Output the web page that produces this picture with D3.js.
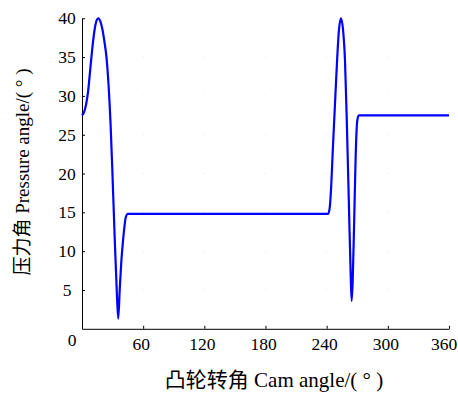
<!DOCTYPE html>
<html>
<head>
<meta charset="utf-8">
<script src="https://cdn.jsdelivr.net/npm/d3@7"></script>
<style>
  html, body { margin: 0; padding: 0; background: #fff; }
  svg text { font-family: "Liberation Serif", "Times New Roman", "Noto Sans CJK SC", serif; fill: #000; }
  .cjk { font-family: "Noto Sans CJK SC", sans-serif; }
</style>
</head>
<body>
<div id="chart"></div>
<script>
// Cam angle (deg) and pressure angle (deg)
const camAngle = [0, 2, 4, 6, 8, 10, 12, 14, 16, 18, 20, 22, 24, 26, 28, 30, 32, 34, 35.5,
                  37, 38.5, 40, 41.5, 43, 45,
                  241.5, 243, 244.5, 246, 248, 250, 252, 254, 256, 258, 260, 262, 263.5, 264.5,
                  265.5, 267, 268.5, 270, 271.5, 360];
const pressure = [27.5, 27.9, 28.9, 30.6, 33.3, 36.0, 38.2, 39.6, 40.0, 39.6, 38.6, 37.0, 35.0, 31.5, 26.5, 19.5, 12.0, 5.2, 1.3,
                  5.0, 8.5, 11.0, 13.0, 14.4, 14.8,
                  14.8, 15.6, 18.5, 23.0, 28.5, 34.0, 38.4, 40.0, 38.6, 34.5, 25.5, 15.0, 7.3, 3.6,
                  6.0, 14.0, 22.5, 26.8, 27.5, 27.5];

const xTicks = [60, 120, 180, 240, 300, 360];
const yTicks = [5, 10, 15, 20, 25, 30, 35, 40];

// axis titles: [cjk part, latin part]
const xLabel = ["凸轮转角", " Cam angle/("],
      yLabel = ["压力角", " Pressure angle/("];

const width  = 458,
      height = 394;

const x = d3.scaleLinear().domain([0, 360]).range([82, 449]),
      y = d3.scaleLinear().domain([0, 40]).range([328.8, 18.3]);

const svg = d3.select("#chart").append("svg")
  .attr("width", width)
  .attr("height", height);

// faint grid dots at tick crossings
const gridPts = [];
xTicks.slice(0, -1).forEach(a => yTicks.slice(0, -1).forEach(b => gridPts.push([a, b])));
svg.append("g").selectAll("rect")
  .data(gridPts)
  .join("rect")
  .attr("x", d => x(d[0]) - 0.5)
  .attr("y", d => y(d[1]) - 0.5)
  .attr("width", 1)
  .attr("height", 1)
  .attr("fill", "#e4e4e4");

// axes, ticks pointing inward
const xAxis = svg.append("g")
  .attr("transform", `translate(0,${y(0)})`)
  .call(d3.axisBottom(x).tickValues(xTicks).tickSizeInner(-3).tickSizeOuter(0).tickPadding(0));

const yAxis = svg.append("g")
  .attr("transform", `translate(${x(0)},0)`)
  .call(d3.axisLeft(y).tickValues(yTicks).tickSizeInner(-3).tickSizeOuter(0).tickPadding(0));

[xAxis, yAxis].forEach(g => {
  g.attr("font-family", null).attr("font-size", 17.5);
  g.select(".domain").attr("stroke", "#000").attr("stroke-width", 1);
  g.selectAll(".tick line").attr("stroke", "#000");
});

// labels sit a little left of their ticks; the last one is pulled in to fit
xAxis.selectAll(".tick text")
  .attr("y", 9)
  .attr("dy", "0.71em")
  .attr("x", d => d === 360 ? -5.5 : -2.5);
yAxis.selectAll(".tick text").attr("x", -15).attr("text-anchor", "middle");

// shared origin label
svg.append("text")
  .attr("x", x(0) - 10)
  .attr("y", y(0) + 17.5)
  .attr("text-anchor", "middle")
  .attr("font-size", 17.5)
  .text("0");

// the curve
const line = d3.line()
  .x((d, i) => x(camAngle[i]))
  .y(d => y(d))
  .curve(d3.curveMonotoneX);

svg.append("path")
  .datum(pressure)
  .attr("fill", "none")
  .attr("stroke", "#0000ff")
  .attr("stroke-width", 2.2)
  .attr("stroke-linejoin", "round")
  .attr("d", line);

// axis titles, degree sign set full width like the original
function title(sel, parts, size) {
  sel.attr("text-anchor", "middle").attr("font-size", size);
  sel.append("tspan").attr("class", "cjk").text(parts[0]);
  sel.append("tspan").text(parts[1]);
  sel.append("tspan").attr("dx", size * 0.25).text("°");
  sel.append("tspan").attr("dx", size * 0.25).text(")");
}

svg.append("text")
  .attr("x", 274)
  .attr("y", 387)
  .call(title, xLabel, 21);

svg.append("text")
  .attr("transform", "translate(29,172) rotate(-90)")
  .call(title, yLabel, 19);
</script>
</body>
</html>
